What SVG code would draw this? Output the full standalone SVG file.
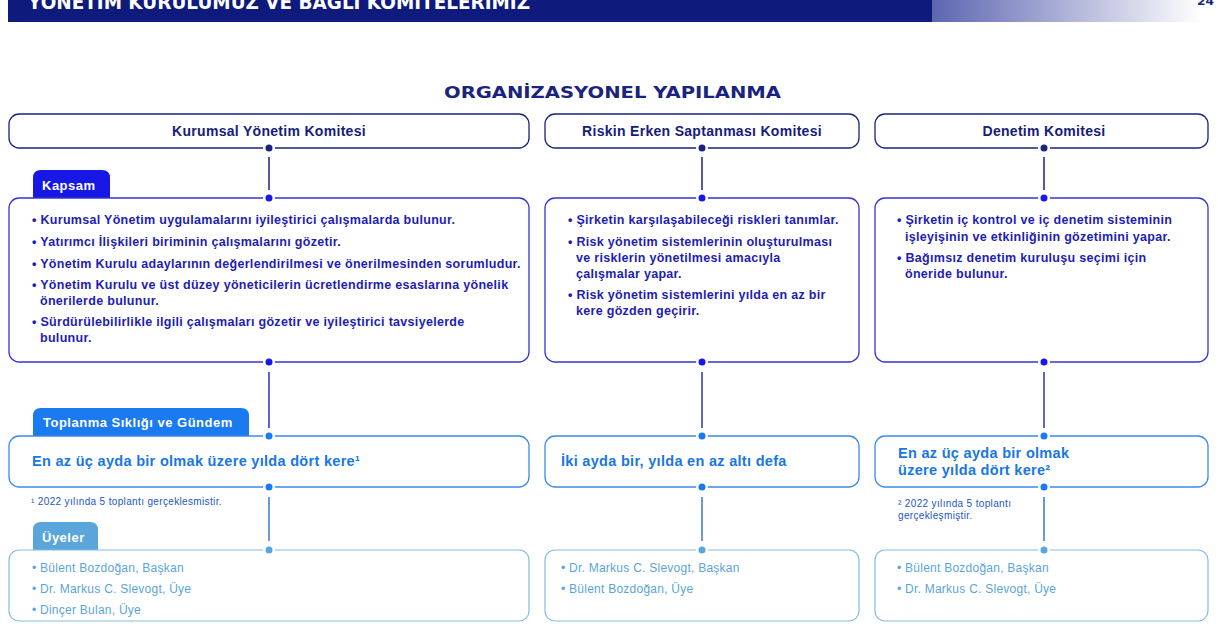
<svg xmlns="http://www.w3.org/2000/svg" width="1218" height="629" viewBox="0 0 1218 629">
<defs>
<linearGradient id="hg" x1="0" y1="0" x2="1" y2="0">
<stop offset="0" stop-color="#5d66b0"/>
<stop offset="1" stop-color="#ffffff"/>
</linearGradient>
<style>
.hdr{font-family:"DejaVu Sans",sans-serif;font-weight:bold;}
.t{font-family:"Liberation Sans",Arial,sans-serif;}
.ttl{font-size:14px;letter-spacing:0.3px;font-weight:bold;fill:#16207a;text-anchor:middle;}
.tab{font-size:13px;letter-spacing:0.5px;font-weight:bold;fill:#ffffff;}
.k{font-size:12.5px;letter-spacing:0.3px;font-weight:bold;fill:#1d1db5;}
.f{font-size:14.5px;letter-spacing:0.3px;font-weight:bold;fill:#1877e6;}
.fn{font-size:10px;letter-spacing:0.35px;fill:#1b55c8;}
.u{font-size:12px;letter-spacing:0.25px;fill:#5aa5d9;}
.b1{fill:#fff;stroke:#1a237e;stroke-width:1.3;}
.b2{fill:#fff;stroke:#3434d4;stroke-width:1.3;}
.b3{fill:#fff;stroke:#3a8aeb;stroke-width:1.3;}
.b4{fill:#fff;stroke:#86bbe2;stroke-width:1.2;}
.c1{stroke:#1a237e;stroke-width:1.5;}
.c2{stroke:#2a35b8;stroke-width:1.5;}
.c3{stroke:#3a78cf;stroke-width:1.5;}
.gap{fill:#fff;}
</style>
</defs>

<g id="header">
<rect x="8" y="0" width="925" height="22" fill="#0f1b7c"/>
<rect x="932" y="0" width="270" height="22" fill="url(#hg)"/>
<text class="hdr" x="28" y="9" font-size="20" fill="#ffffff" textLength="502" lengthAdjust="spacingAndGlyphs">YÖNETİM KURULUMUZ VE BAĞLI KOMİTELERİMİZ</text>
<text class="hdr" x="1197" y="5" font-size="11" fill="#1a237e" textLength="17" lengthAdjust="spacingAndGlyphs">24</text>
<text class="hdr" x="444" y="98" font-size="15" fill="#1a237e" textLength="337" lengthAdjust="spacingAndGlyphs">ORGANİZASYONEL YAPILANMA</text>
</g>

<g id="connectors">
<line class="c1" x1="269" y1="157" x2="269" y2="190"/>
<line class="c2" x1="269" y1="372" x2="269" y2="428"/>
<line class="c3" x1="269" y1="497" x2="269" y2="541"/>
<line class="c1" x1="702" y1="157" x2="702" y2="190"/>
<line class="c2" x1="702" y1="372" x2="702" y2="428"/>
<line class="c3" x1="702" y1="497" x2="702" y2="541"/>
<line class="c1" x1="1044" y1="157" x2="1044" y2="190"/>
<line class="c2" x1="1044" y1="372" x2="1044" y2="428"/>
<line class="c3" x1="1044" y1="497" x2="1044" y2="541"/>
</g>

<!-- Column 1 -->
<g id="kurumsal-title">
<rect class="b1" x="9" y="114" width="520" height="34" rx="10"/>
<circle class="gap" cx="269" cy="148" r="6"/>
<circle cx="269" cy="148" r="3.5" fill="#1a237e"/>
<text class="t ttl" x="269" y="136">Kurumsal Yönetim Komitesi</text>
</g>
<g id="kurumsal-kapsam">
<path d="M33,199 V178 Q33,170 41,170 H102 Q110,170 110,178 V199 Z" fill="#1818e6"/>
<text class="t tab" x="42" y="190">Kapsam</text>
<rect class="b2" x="9" y="198" width="520" height="164" rx="10"/>
<circle class="gap" cx="269" cy="198" r="6"/>
<circle cx="269" cy="198" r="3.5" fill="#1818e6"/>
<circle class="gap" cx="269" cy="362" r="6"/>
<circle cx="269" cy="362" r="3.5" fill="#1818e6"/>
<text class="t k" x="32" y="224">• Kurumsal Yönetim uygulamalarını iyileştirici çalışmalarda bulunur.</text>
<text class="t k" x="32" y="246">• Yatırımcı İlişkileri biriminin çalışmalarını gözetir.</text>
<text class="t k" x="32" y="268">• Yönetim Kurulu adaylarının değerlendirilmesi ve önerilmesinden sorumludur.</text>
<text class="t k" x="32" y="289">• Yönetim Kurulu ve üst düzey yöneticilerin ücretlendirme esaslarına yönelik</text>
<text class="t k" x="40" y="305">önerilerde bulunur.</text>
<text class="t k" x="32" y="326">• Sürdürülebilirlikle ilgili çalışmaları gözetir ve iyileştirici tavsiyelerde</text>
<text class="t k" x="40" y="342">bulunur.</text>
</g>
<g id="kurumsal-toplanma">
<path d="M33,437 V416 Q33,408 41,408 H241 Q249,408 249,416 V437 Z" fill="#1a7af0"/>
<text class="t tab" x="43" y="427">Toplanma Sıklığı ve Gündem</text>
<rect class="b3" x="9" y="436" width="520" height="51" rx="10"/>
<circle class="gap" cx="269" cy="436" r="6"/>
<circle cx="269" cy="436" r="3.5" fill="#1a7af0"/>
<circle class="gap" cx="269" cy="487" r="6"/>
<circle cx="269" cy="487" r="3.5" fill="#1a7af0"/>
<text class="t f" x="32" y="466">En az üç ayda bir olmak üzere yılda dört kere¹</text>
<text class="t fn" x="31" y="505">¹ 2022 yılında 5 toplantı gerçeklesmistir.</text>
</g>
<g id="kurumsal-uyeler">
<path d="M33,551 V530 Q33,522 41,522 H90 Q98,522 98,530 V551 Z" fill="#5aa5d9"/>
<text class="t tab" x="42" y="542">Üyeler</text>
<rect class="b4" x="9" y="550" width="520" height="71" rx="10"/>
<circle class="gap" cx="269" cy="550" r="6"/>
<circle cx="269" cy="550" r="3.5" fill="#5aa5d9"/>
<text class="t u" x="32" y="572">• Bülent Bozdoğan, Başkan</text>
<text class="t u" x="32" y="593">• Dr. Markus C. Slevogt, Üye</text>
<text class="t u" x="32" y="614">• Dinçer Bulan, Üye</text>
</g>

<!-- Column 2 -->
<g id="risk-title">
<rect class="b1" x="545" y="114" width="314" height="34" rx="10"/>
<circle class="gap" cx="702" cy="148" r="6"/>
<circle cx="702" cy="148" r="3.5" fill="#1a237e"/>
<text class="t ttl" x="702" y="136">Riskin Erken Saptanması Komitesi</text>
</g>
<g id="risk-kapsam">
<rect class="b2" x="545" y="198" width="314" height="164" rx="10"/>
<circle class="gap" cx="702" cy="198" r="6"/>
<circle cx="702" cy="198" r="3.5" fill="#1818e6"/>
<circle class="gap" cx="702" cy="362" r="6"/>
<circle cx="702" cy="362" r="3.5" fill="#1818e6"/>
<text class="t k" x="568" y="224">• Şirketin karşılaşabileceği riskleri tanımlar.</text>
<text class="t k" x="568" y="246">• Risk yönetim sistemlerinin oluşturulması</text>
<text class="t k" x="576" y="262">ve risklerin yönetilmesi amacıyla</text>
<text class="t k" x="576" y="278">çalışmalar yapar.</text>
<text class="t k" x="568" y="299">• Risk yönetim sistemlerini yılda en az bir</text>
<text class="t k" x="576" y="315">kere gözden geçirir.</text>
</g>
<g id="risk-toplanma">
<rect class="b3" x="545" y="436" width="314" height="51" rx="10"/>
<circle class="gap" cx="702" cy="436" r="6"/>
<circle cx="702" cy="436" r="3.5" fill="#1a7af0"/>
<circle class="gap" cx="702" cy="487" r="6"/>
<circle cx="702" cy="487" r="3.5" fill="#1a7af0"/>
<text class="t f" x="561" y="466">İki ayda bir, yılda en az altı defa</text>
</g>
<g id="risk-uyeler">
<rect class="b4" x="545" y="550" width="314" height="71" rx="10"/>
<circle class="gap" cx="702" cy="550" r="6"/>
<circle cx="702" cy="550" r="3.5" fill="#5aa5d9"/>
<text class="t u" x="561" y="572">• Dr. Markus C. Slevogt, Başkan</text>
<text class="t u" x="561" y="593">• Bülent Bozdoğan, Üye</text>
</g>

<!-- Column 3 -->
<g id="denetim-title">
<rect class="b1" x="875" y="114" width="333" height="34" rx="10"/>
<circle class="gap" cx="1044" cy="148" r="6"/>
<circle cx="1044" cy="148" r="3.5" fill="#1a237e"/>
<text class="t ttl" x="1044" y="136">Denetim Komitesi</text>
</g>
<g id="denetim-kapsam">
<rect class="b2" x="875" y="198" width="333" height="164" rx="10"/>
<circle class="gap" cx="1044" cy="198" r="6"/>
<circle cx="1044" cy="198" r="3.5" fill="#1818e6"/>
<circle class="gap" cx="1044" cy="362" r="6"/>
<circle cx="1044" cy="362" r="3.5" fill="#1818e6"/>
<text class="t k" x="897" y="224">• Şirketin iç kontrol ve iç denetim sisteminin</text>
<text class="t k" x="905" y="241">işleyişinin ve etkinliğinin gözetimini yapar.</text>
<text class="t k" x="897" y="262">• Bağımsız denetim kuruluşu seçimi için</text>
<text class="t k" x="905" y="278">öneride bulunur.</text>
</g>
<g id="denetim-toplanma">
<rect class="b3" x="875" y="436" width="333" height="51" rx="10"/>
<circle class="gap" cx="1044" cy="436" r="6"/>
<circle cx="1044" cy="436" r="3.5" fill="#1a7af0"/>
<circle class="gap" cx="1044" cy="487" r="6"/>
<circle cx="1044" cy="487" r="3.5" fill="#1a7af0"/>
<text class="t f" x="898" y="458">En az üç ayda bir olmak</text>
<text class="t f" x="898" y="475">üzere yılda dört kere²</text>
<text class="t fn" x="898" y="507">² 2022 yılında 5 toplantı</text>
<text class="t fn" x="898" y="519">gerçekleşmiştir.</text>
</g>
<g id="denetim-uyeler">
<rect class="b4" x="875" y="550" width="333" height="71" rx="10"/>
<circle class="gap" cx="1044" cy="550" r="6"/>
<circle cx="1044" cy="550" r="3.5" fill="#5aa5d9"/>
<text class="t u" x="897" y="572">• Bülent Bozdoğan, Başkan</text>
<text class="t u" x="897" y="593">• Dr. Markus C. Slevogt, Üye</text>
</g>
</svg>
